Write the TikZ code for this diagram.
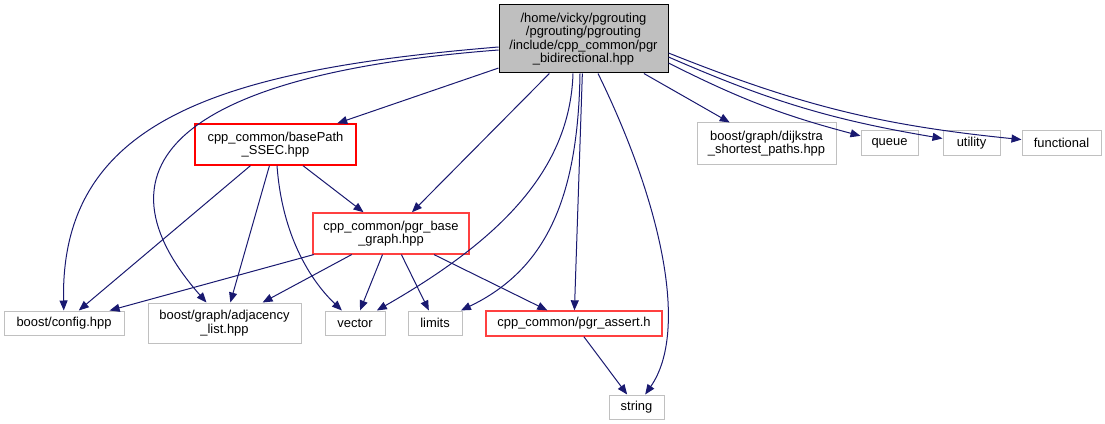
\documentclass[tikz,border=0pt]{standalone}
\usepackage{fontspec}
\setmainfont{Liberation Sans}
\usetikzlibrary{arrows.meta}
\definecolor{edgeblue}{HTML}{191970}
\definecolor{boxgray}{HTML}{BFBFBF}
\definecolor{linegray}{HTML}{C0C0C0}
\definecolor{lightred}{HTML}{FF4040}
\tikzset{
    file/.style={draw=linegray,line width=0.75pt,inner sep=0pt,align=center,
        font=\fontsize{9.7}{10}\selectfont},
    redfile/.style={file,draw=red,line width=1pt},
    dep/.style={->,draw=edgeblue,line width=0.75pt},
}
\begin{document}
\begin{tikzpicture}[x=0.75pt,y=-0.75pt,>={Stealth[length=7.5pt,width=6pt,inset=0pt]}]
    \useasboundingbox (0,0) rectangle (1105,424);
    % 节点
    \node[file,draw=black,fill=boxgray,minimum width=126.75pt,minimum height=51pt] (main) at (583.5,39)
        {/home/vicky/pgrouting\\/pgrouting/pgrouting\\/include/cpp\_common/pgr\\\_bidirectional.hpp};
    \node[redfile,minimum width=120.75pt,minimum height=30.75pt] (basepath) at (275.5,144.5)
        {cpp\_common/basePath\\\_SSEC.hpp};
    \node[redfile,draw=lightred,minimum width=117pt,minimum height=30.75pt] (basegraph) at (391,233.4)
        {cpp\_common/pgr\_base\\\_graph.hpp};
    \node[file,minimum width=90pt,minimum height=18pt] (config) at (64,323) {boost/config.hpp};
    \node[file,minimum width=114.75pt,minimum height=30pt] (adjlist) at (224.5,323)
        {boost/graph/adjacency\\\_list.hpp};
    \node[file,minimum width=45pt,minimum height=18pt] (vector) at (355,323) {vector};
    \node[file,minimum width=40.5pt,minimum height=18pt] (limits) at (435,323) {limits};
    \node[redfile,draw=lightred,minimum width=132pt,minimum height=18.75pt] (assert) at (574,323.5)
        {cpp\_common/pgr\_assert.h};
    \node[file,minimum width=41.25pt,minimum height=18pt] (string) at (636.5,407) {string};
    \node[file,minimum width=104.25pt,minimum height=30.75pt] (dijkstra) at (766.5,143.5)
        {boost/graph/dijkstra\\\_shortest\_paths.hpp};
    \node[file,minimum width=42.75pt,minimum height=18pt] (queue) at (889.5,143) {queue};
    \node[file,minimum width=42.75pt,minimum height=18pt] (utility) at (971.5,143) {utility};
    \node[file,minimum width=59.25pt,minimum height=18pt] (functional) at (1061.5,143) {functional};

    % 主文件的依赖
    \draw[dep] (main.west|-0,47) .. controls (220,70) and (60,120) .. (config);
    \draw[dep] (main.west|-0,50) .. controls (170,75) and (90,170) .. (adjlist);
    \draw[dep] (main) -- (basepath);
    \draw[dep] (main) -- (basegraph);
    \draw[dep] (main.south-|573,0) .. controls (570,170) and (500,240) .. (vector);
    \draw[dep] (main.south-|580,0) .. controls (578,200) and (545,270) .. (limits);
    \draw[dep] (main) -- (assert);
    \draw[dep] (main.south-|598,0) .. controls (660,200) and (690,330) .. (string);
    \draw[dep] (main) -- (dijkstra);
    \draw[dep] (main.east|-0,63) to[bend right=6] (queue);
    \draw[dep] (main.east|-0,57) to[bend right=7] (utility);
    \draw[dep] (main.east|-0,53) to[bend right=8] (functional);

    % basePath 的依赖
    \draw[dep] (basepath) -- (config);
    \draw[dep] (basepath) -- (adjlist);
    \draw[dep] (basepath) .. controls (282,235) and (310,280) .. (vector);
    \draw[dep] (basepath) -- (basegraph);

    % pgr_base_graph 的依赖
    \draw[dep] (basegraph) -- (config);
    \draw[dep] (basegraph) -- (adjlist);
    \draw[dep] (basegraph) -- (vector);
    \draw[dep] (basegraph) -- (limits);
    \draw[dep] (basegraph) -- (assert);

    \draw[dep] (assert) -- (string);
\end{tikzpicture}
\end{document}
